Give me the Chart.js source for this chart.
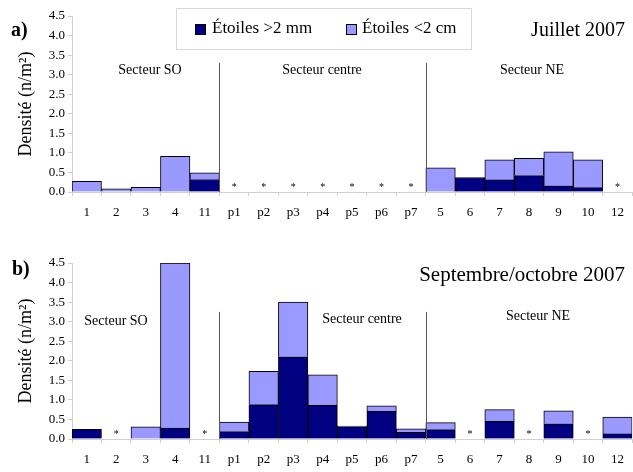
<!DOCTYPE html>
<html>
<head>
<meta charset="utf-8">
<script src="https://cdn.jsdelivr.net/npm/chart.js@4/dist/chart.umd.min.js"></script>
<style>
  body { margin: 0; background: #fff; font-family: "Liberation Serif", serif; }
  #wrap { position: relative; width: 633px; height: 472px; overflow: hidden; }
  canvas { position: absolute; left: 0; }
  .txt { position: absolute; color: #000; white-space: nowrap; }
  #legend { position: absolute; left: 176px; top: 8px; width: 296px; height: 42px;
    border: 1px solid #d8d8d8; box-sizing: border-box; font-size: 17px; }
  .sw { position: absolute; width: 9px; height: 9px; border: 1px solid #000; top: 15px; }
</style>
</head>
<body>
<div id="wrap">
  <canvas id="chartA" width="633" height="230" style="top:0"></canvas>
  <canvas id="chartB" width="633" height="242" style="top:230px"></canvas>

  <div class="txt" style="left:11px;top:18px;font-size:20px;font-weight:bold">a)</div>
  <div class="txt" style="left:12px;top:257px;font-size:20px;font-weight:bold">b)</div>
  <div class="txt" style="right:8px;top:18px;font-size:20px">Juillet 2007</div>
  <div class="txt" style="right:8px;top:262px;font-size:21px">Septembre/octobre 2007</div>

  <div id="legend">
    <div class="sw" style="left:18px;background:#000080"></div>
    <div class="txt" style="left:35px;top:9px">Étoiles &gt;2 mm</div>
    <div class="sw" style="left:169px;background:#9999ff"></div>
    <div class="txt" style="left:185px;top:9px">Étoiles &lt;2 cm</div>
  </div>
</div>

<script>
// ===============================
// DATA
// ===============================

const stations = ["1", "2", "3", "4", "11", "p1", "p2", "p3", "p4", "p5", "p6", "p7",
                  "5", "6", "7", "8", "9", "10", "12"];

const yTicks = [0, 0.5, 1, 1.5, 2, 2.5, 3, 3.5, 4, 4.5];

// Juillet 2007 (null = station non échantillonnée)
const julyLarge = [0, 0, 0, 0, 0.32, null, null, null, null, null, null, null,
                   0, 0.37, 0.31, 0.42, 0.16, 0.11, null];
const julySmall = [0.27, 0.08, 0.12, 0.91, 0.17, null, null, null, null, null, null, null,
                   0.62, 0, 0.51, 0.44, 0.87, 0.71, null];

// Septembre/octobre 2007
const septLarge = [0.25, null, 0, 0.28, null, 0.19, 0.88, 2.1, 0.86, 0.31, 0.71, 0.17,
                   0.24, null, 0.45, null, 0.39, null, 0.13];
const septSmall = [0, null, 0.31, 4.22, null, 0.24, 0.85, 1.4, 0.78, 0.02, 0.14, 0.09,
                   0.18, null, 0.3, null, 0.33, null, 0.43];

const sectorNames = ["Secteur SO", "Secteur centre", "Secteur NE"];


// ===============================
// PLUGIN : séparateurs, secteurs, astérisques
// ===============================

const extras = {
  id: "extras",
  afterDatasetsDraw(chart, args, opts) {
    const { ctx } = chart;
    const x = chart.scales.x;
    const y = chart.scales.y;
    const half = (x.getPixelForValue(1) - x.getPixelForValue(0)) / 2;

    ctx.save();

    // vertical separators between sectors
    ctx.strokeStyle = "#555";
    ctx.lineWidth = 1;
    opts.splits.forEach(i => {
      const px = Math.round(x.getPixelForValue(i) - half) + 0.5;
      ctx.beginPath();
      ctx.moveTo(px, y.getPixelForValue(opts.splitTop));
      ctx.lineTo(px, y.bottom);
      ctx.stroke();
    });

    // sector labels
    ctx.fillStyle = "#000";
    ctx.font = "14px 'Liberation Serif'";
    ctx.textAlign = "center";
    ctx.textBaseline = "middle";
    sectorNames.forEach((name, i) => {
      ctx.fillText(name, opts.labelX[i], y.getPixelForValue(opts.labelY[i]));
    });

    // asterisks for missing stations
    ctx.font = "10px 'Liberation Serif'";
    const data = chart.data.datasets[0].data;
    data.forEach((v, i) => {
      if (v === null) {
        ctx.fillText("*", x.getPixelForValue(i), y.bottom - 5);
      }
    });

    ctx.restore();
  }
};


// ===============================
// CHART BUILDER
// ===============================

function makeChart(id, large, small, padTop, xHeight, extraOpts) {
  return new Chart(document.getElementById(id), {
    type: "bar",
    data: {
      labels: stations,
      datasets: [
        {
          label: "Étoiles >2 mm",
          data: large,
          backgroundColor: "#000080",
          borderColor: "#000",
          borderWidth: 1,
          barPercentage: 1,
          categoryPercentage: 1
        },
        {
          label: "Étoiles <2 cm",
          data: small,
          backgroundColor: "#9999ff",
          borderColor: "#000",
          borderWidth: 1,
          barPercentage: 1,
          categoryPercentage: 1
        }
      ]
    },
    options: {
      responsive: false,
      animation: false,
      layout: { padding: { top: padTop, right: 0, left: 0, bottom: 0 } },
      plugins: {
        legend: { display: false },
        tooltip: { enabled: false },
        extras: extraOpts
      },
      scales: {
        x: {
          stacked: true,
          afterFit: s => { s.height = xHeight; },
          grid: {
            offset: true,
            drawOnChartArea: false,
            tickLength: 4,
            color: "#d0d0d0"
          },
          border: { color: "#d0d0d0" },
          ticks: {
            color: "#000",
            padding: 9,
            maxRotation: 0,
            autoSkip: false,
            font: { family: "Liberation Serif", size: 13 }
          }
        },
        y: {
          stacked: true,
          min: 0,
          max: 4.5,
          afterFit: s => { s.width = 72; },
          afterBuildTicks: s => { s.ticks = yTicks.map(v => ({ value: v })); },
          grid: {
            drawOnChartArea: false,
            tickLength: 4,
            color: "#d0d0d0"
          },
          border: { color: "#d0d0d0" },
          ticks: {
            color: "#000",
            padding: 3,
            callback: v => Number(v).toFixed(1),
            font: { family: "Liberation Serif", size: 13 }
          },
          title: {
            display: true,
            text: "Densité (n/m²)",
            color: "#000",
            padding: { top: 15, bottom: 0 },
            font: { family: "Liberation Serif", size: 18 }
          }
        }
      }
    },
    plugins: [extras]
  });
}

makeChart("chartA", julyLarge, julySmall, 16, 38, {
  splits: [5, 12],
  splitTop: 3.3,
  labelX: [150, 322, 532],
  labelY: [3.12, 3.12, 3.12]
});

makeChart("chartB", septLarge, septSmall, 33, 33, {
  splits: [5, 12],
  splitTop: 3.25,
  labelX: [116, 362, 538],
  labelY: [3.02, 3.06, 3.13]
});
</script>
</body>
</html>
